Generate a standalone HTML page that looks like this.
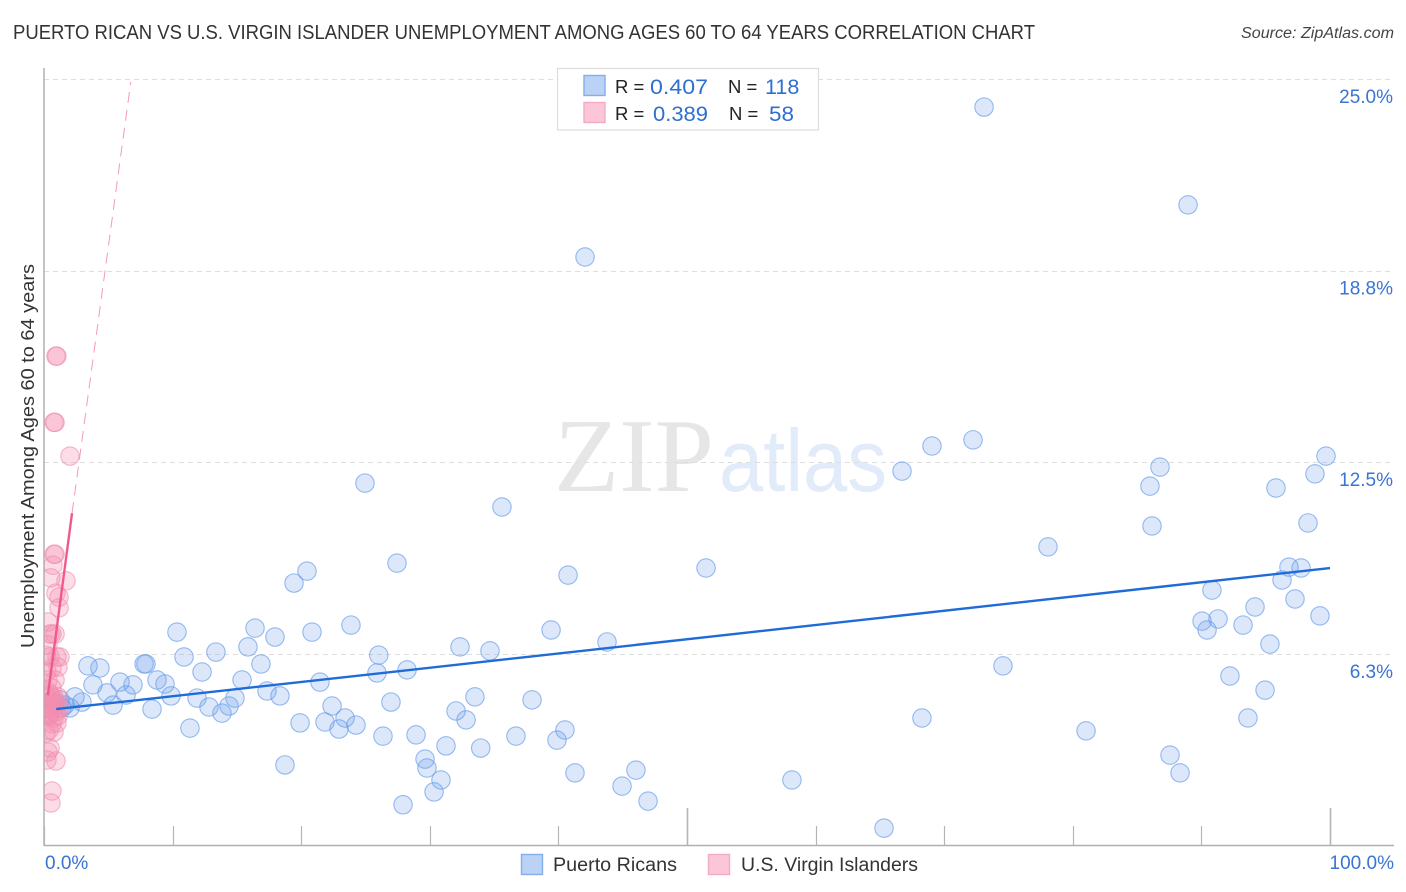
<!DOCTYPE html>
<html>
<head>
<meta charset="utf-8">
<title>Puerto Rican vs U.S. Virgin Islander Unemployment Correlation Chart</title>
<style>
html,body{margin:0;padding:0;background:#fff;width:1406px;height:892px;overflow:hidden}
svg{display:block}
text{font-family:"Liberation Sans",sans-serif}
</style>
</head>
<body>
<svg id="chart" width="1406" height="892" viewBox="0 0 1406 892" xmlns="http://www.w3.org/2000/svg">
  <defs>
    <clipPath id="plotClip"><rect x="44.5" y="60" width="1350" height="785"/></clipPath>
  </defs>
  <text x="13" y="39" font-size="20" fill="#333" textLength="1022" lengthAdjust="spacingAndGlyphs">PUERTO RICAN VS U.S. VIRGIN ISLANDER UNEMPLOYMENT AMONG AGES 60 TO 64 YEARS CORRELATION CHART</text>
  <text x="1241" y="38" font-size="15.5" font-style="italic" fill="#444" textLength="153" lengthAdjust="spacingAndGlyphs">Source: ZipAtlas.com</text>
  <g>
    <text x="554" y="491" font-size="105" fill="#e6e6e6" textLength="160" lengthAdjust="spacingAndGlyphs" style="font-family:'Liberation Serif',serif">ZIP</text>
    <text x="719" y="491" font-size="88" fill="#e2ebfa" textLength="168" lengthAdjust="spacingAndGlyphs">atlas</text>
  </g>
  <g id="grid"></g>
  <g id="axes"></g>
  <g id="pointsA" clip-path="url(#plotClip)"></g>
  <g id="pointsB" clip-path="url(#plotClip)"></g>
  <g id="lines"></g>
  <g id="labels"></g>
  <text transform="translate(34,456) rotate(-90)" font-size="18" fill="#333" text-anchor="middle" textLength="384" lengthAdjust="spacingAndGlyphs">Unemployment Among Ages 60 to 64 years</text>
  <g>
    <rect x="557.5" y="68.5" width="261" height="61.5" fill="#fff" fill-opacity="0.9" stroke="#ddd" stroke-width="1.2"/>
    <rect x="584" y="75.5" width="21" height="20" fill="#b9d2f6" stroke="#84aee8" stroke-width="1.4"/>
    <rect x="584" y="102.5" width="21" height="20" fill="#fcc5d8" stroke="#f3aac4" stroke-width="1.4"/>
    <text x="615" y="93" font-size="18.5" fill="#222">R =</text>
    <text x="650" y="94" font-size="21.5" fill="#2f6fd0" textLength="58" lengthAdjust="spacingAndGlyphs">0.407</text>
    <text x="728" y="93" font-size="18.5" fill="#222">N =</text>
    <text x="765" y="94" font-size="21.5" fill="#2f6fd0">118</text>
    <text x="615" y="120" font-size="18.5" fill="#222">R =</text>
    <text x="653" y="121" font-size="21.5" fill="#2f6fd0" textLength="55" lengthAdjust="spacingAndGlyphs">0.389</text>
    <text x="729" y="120" font-size="18.5" fill="#222">N =</text>
    <text x="769" y="121" font-size="21.5" fill="#2f6fd0" textLength="25" lengthAdjust="spacingAndGlyphs">58</text>
  </g>
  <g>
    <rect x="521.5" y="854.5" width="21" height="20" fill="#b9d2f6" stroke="#84aee8" stroke-width="1.4"/>
    <text x="553" y="871" font-size="19" fill="#333" textLength="124" lengthAdjust="spacingAndGlyphs">Puerto Ricans</text>
    <rect x="708.5" y="854.5" width="21" height="20" fill="#fcc5d8" stroke="#f3aac4" stroke-width="1.4"/>
    <text x="741" y="871" font-size="19" fill="#333" textLength="177" lengthAdjust="spacingAndGlyphs">U.S. Virgin Islanders</text>
  </g>
</svg>
<script>
var blueX = [73.1,88.96,42.07,99.69,72.24,69.05,66.72,86.78,86.0,98.83,95.8,24.96,35.61,98.29,86.16,78.07,27.45,51.48,20.45,19.44,40.75,96.81,97.75,96.27,90.82,97.28,94.17,99.22,90.05,90.44,91.29,93.24,95.33,39.43,23.87,16.41,10.34,20.84,17.96,15.86,43.78,32.35,34.68,13.37,10.89,26.03,16.87,7.78,7.93,3.42,4.35,74.57,28.23,12.29,25.89,21.46,15.4,8.79,9.41,5.91,6.92,3.81,92.22,94.95,17.34,18.35,14.85,9.88,11.9,4.9,6.38,2.41,33.51,37.95,26.98,22.4,14.39,12.83,5.37,8.4,13.84,2.95,1.24,1.63,2.02,1.4,0.86,32.04,32.82,23.41,19.91,21.85,24.26,22.94,11.35,68.27,93.62,81.03,40.51,36.7,39.89,26.36,28.93,31.26,33.96,87.56,29.63,18.74,29.78,46.03,41.29,88.34,58.16,30.87,44.95,30.33,46.97,27.92,65.32];
var blueY = [24.08,20.89,19.19,12.7,13.23,13.03,12.21,12.34,11.72,12.12,11.66,11.82,11.04,10.52,10.42,9.74,9.21,9.05,8.95,8.56,8.82,9.08,9.05,8.66,8.33,8.04,7.78,7.49,7.32,7.03,7.39,7.19,6.57,7.03,7.19,7.09,6.96,6.96,6.8,6.48,6.64,6.48,6.35,6.31,6.15,6.21,5.92,5.92,5.92,5.86,5.79,5.86,5.73,5.66,5.63,5.33,5.4,5.4,5.27,5.33,5.24,5.24,5.53,5.07,5.04,4.88,4.81,4.88,4.81,4.98,4.91,4.85,4.85,4.75,4.68,4.55,4.55,4.52,4.58,4.45,4.32,4.68,4.75,4.58,4.49,4.49,4.65,4.39,4.1,4.16,4.0,4.03,3.93,3.8,3.83,4.16,4.16,3.74,3.77,3.57,3.44,3.57,3.61,3.25,3.18,2.95,2.82,2.63,2.53,2.46,2.37,2.37,2.14,2.14,1.94,1.75,1.45,1.33,0.57];
var pinkX = [0.93,1.0,0.78,0.86,2.02,0.78,0.86,0.7,0.54,0.93,1.17,1.71,1.17,0.31,0.62,0.47,0.86,0.31,1.24,1.01,0.47,0.62,1.09,0.23,0.86,0.31,0.62,0.16,0.47,0.78,1.09,0.31,0.7,1.01,0.23,0.54,0.93,1.24,0.39,0.78,1.09,0.16,0.62,1.01,0.39,0.78,0.16,0.47,0.31,0.23,0.93,0.62,0.54,0.2,0.35,0.7,0.55,0.4];
var pinkY = [15.96,15.96,13.8,13.8,12.7,9.5,9.5,9.14,8.73,8.23,8.1,8.63,7.75,7.29,6.9,6.9,6.9,6.54,6.15,6.15,6.15,5.79,5.82,5.66,5.4,5.4,5.14,4.91,4.91,4.81,4.85,4.65,4.65,4.65,4.49,4.42,4.36,4.49,4.23,4.16,4.23,4.23,3.97,4.0,3.77,3.7,3.67,3.18,3.05,2.79,2.76,1.78,1.39,6.2,5.0,4.75,4.55,4.3];
var blueTrendX = [0.95, 100];
var blueTrendY = [4.45, 9.05];
var pinkTrendX = [0.3, 2.18];
var pinkTrendY = [4.9, 10.84];
var pinkDashX = [2.18, 6.75];
var pinkDashY = [10.84, 24.9];
var yTicks = [6.25, 12.5, 18.75, 25];
var yTickLabels = ["6.3%", "12.5%", "18.8%", "25.0%"];
var xTicks = [0,10,20,30,40,50,60,70,80,90,100];
var xMajorTicks = [50,100];
var xEndLabels = ["0.0%", "100.0%"];

var NS = "http://www.w3.org/2000/svg";
function xScale(v){ return 44 + v * 12.86; }
function yScale(v){ return 845.6 - v * 30.67; }
function make(tag, attrs, parent){
  var el = document.createElementNS(NS, tag);
  for (var k in attrs) el.setAttribute(k, attrs[k]);
  parent.appendChild(el);
  return el;
}
var grid = document.getElementById("grid");
var axes = document.getElementById("axes");
var labels = document.getElementById("labels");
var pointsA = document.getElementById("pointsA");
var pointsB = document.getElementById("pointsB");
var lines = document.getElementById("lines");

yTicks.forEach(function(t, i){
  var yy = Math.round(yScale(t)) + 0.5;
  var g = make("line", {x1:44, x2:1394, y1:yy, y2:yy, stroke:"#dedede", "stroke-width":1, "stroke-dasharray":"5 4"}, grid);
  
  
  var lab = make("text", {x:1393, y:yScale(t) + 24, "font-size":19, fill:"#3a74d2", "text-anchor":"end"}, labels);
  lab.textContent = yTickLabels[i];
  
  
});

var yAxis = make("line", {x1:44, x2:44, y1:68, y2:846, stroke:"#aaa", "stroke-width":1.4}, axes);


var xAxis = make("line", {x1:44, x2:1394, y1:845.5, y2:845.5, stroke:"#b0b0b0", "stroke-width":1.4}, axes);



xTicks.forEach(function(t){
  var major = xMajorTicks.indexOf(t) >= 0;
  var xx = Math.round(xScale(t)) + 0.5;
  var tick = make("line", {x1:xx, x2:xx, y1:major ? 808 : 826, y2:845, stroke:"#b5b5b5", "stroke-width":major ? 1.6 : 1.2}, axes);
  
  
});

var x0Label = make("text", {x:45, y:869, "font-size":19, fill:"#3a74d2"}, labels);
x0Label.textContent = xEndLabels[0];


var x1Label = make("text", {x:1394, y:869, "font-size":19, fill:"#3a74d2", "text-anchor":"end"}, labels);
x1Label.textContent = xEndLabels[1];



blueX.forEach(function(v, i){
  var c = make("circle", {cx:xScale(v), cy:yScale(blueY[i]), r:9.2, fill:"#6c9fec", "fill-opacity":0.24, stroke:"#6a9eea", "stroke-opacity":0.7, "stroke-width":1.1}, pointsA);
  
  
});
pinkX.forEach(function(v, i){
  var c = make("circle", {cx:xScale(v), cy:yScale(pinkY[i]), r:9.2, fill:"#f48fb1", "fill-opacity":0.3, stroke:"#f08db0", "stroke-opacity":0.65, "stroke-width":1.1}, pointsB);
  
  
});

var blueLine = make("line", {x1:xScale(blueTrendX[0]), x2:xScale(blueTrendX[1]), y1:yScale(blueTrendY[0]), y2:yScale(blueTrendY[1]), stroke:"#1f6bd8", "stroke-width":2.4}, lines);


var pinkLine = make("line", {x1:xScale(pinkTrendX[0]), x2:xScale(pinkTrendX[1]), y1:yScale(pinkTrendY[0]), y2:yScale(pinkTrendY[1]), stroke:"#ee5a8e", "stroke-width":2.4}, lines);


var pinkDash = make("line", {x1:xScale(pinkDashX[0]), x2:xScale(pinkDashX[1]), y1:yScale(pinkDashY[0]), y2:yScale(pinkDashY[1]), stroke:"#f39ab9", "stroke-width":1, "stroke-dasharray":"11 7"}, lines);


</script>
</body>
</html>
